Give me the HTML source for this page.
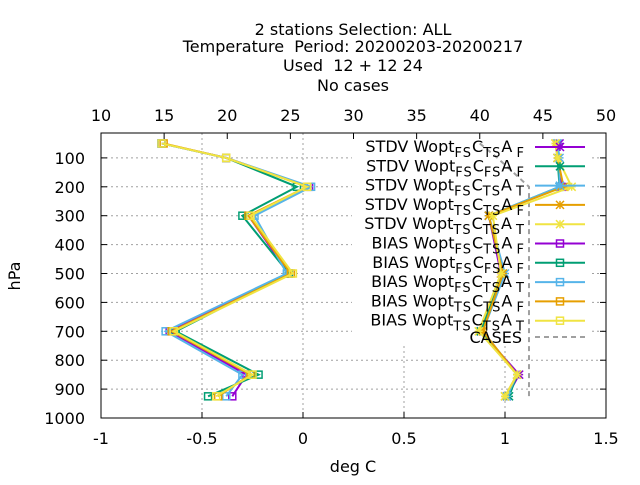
<!DOCTYPE html>
<html><head><meta charset="utf-8"><style>
body{margin:0;background:#fff}
svg{font-family:"DejaVu Sans","Liberation Sans",sans-serif}
text{white-space:pre}
</style></head><body>
<svg id="c" width="640" height="480" viewBox="0 0 640 480" xmlns="http://www.w3.org/2000/svg">
<g font-size="16" text-anchor="middle" fill="#000">
<text x="353" y="35" xml:space="preserve">2 stations Selection: ALL</text>
<text x="353" y="52" xml:space="preserve">Temperature  Period: 20200203-20200217</text>
<text x="353" y="71" xml:space="preserve">Used  12 + 12 24</text>
<text x="353" y="91">No cases</text>
</g>
<g id="grid"></g>
<g id="axes"></g>
<g id="series"></g>
<g id="legend"></g>
<text x="20" y="276" font-size="16" transform="rotate(-90 20 276)" text-anchor="middle">hPa</text>
<text x="353" y="472" font-size="16" text-anchor="middle">deg C</text>
</svg>
<script>
const levels=[50,100,200,300,500,700,850,925];
const stdvFsTsF=[1.27,1.26,1.28,0.92,0.98,0.88,1.07,1.01];
const stdvFsFsF=[1.26,1.26,1.27,0.92,0.99,0.88,1.06,1.02];
const stdvFsTsT=[1.26,1.27,1.27,0.92,1.00,0.89,1.06,1.01];
const stdvTsTsF=[1.25,1.26,1.29,0.92,0.99,0.89,1.06,1.00];
const stdvTsTsT=[1.25,1.26,1.33,0.94,0.98,0.87,1.06,1.00];
const biasFsTsF=[-0.70,-0.38,0.03,-0.27,-0.07,-0.66,-0.28,-0.35];
const biasFsFsF=[-0.70,-0.38,-0.03,-0.30,-0.07,-0.63,-0.22,-0.47];
const biasFsTsT=[-0.70,-0.38,0.04,-0.24,-0.08,-0.68,-0.30,-0.38];
const biasTsTsF=[-0.69,-0.38,0.02,-0.27,-0.06,-0.65,-0.26,-0.42];
const biasTsTsT=[-0.70,-0.38,0.02,-0.26,-0.05,-0.64,-0.25,-0.43];
const casesLevels=[50,100,200,300,500,700,850,925];
const casesVals=[40.0,41.4,43.9,43.9,43.9,43.9,43.9,43.9];
const xTicks=[-1,-0.5,0,0.5,1,1.5];
const xTickLabels=["-1","-0.5","0","0.5","1","1.5"];
const x2Ticks=[10,15,20,25,30,35,40,45,50];
const yTicks=[100,200,300,400,500,600,700,800,900,1000];

const L=101,R=606,T=133,B=418;
const X=v=>L+(v+1)/2.5*(R-L);
const X2=v=>L+(v-10)/40*(R-L);
const Y=p=>129+p*0.289;
const NS="http://www.w3.org/2000/svg";
function mk(tag,attrs,parent){const e=document.createElementNS(NS,tag);for(const k in attrs)e.setAttribute(k,attrs[k]);parent.appendChild(e);return e;}
const grid=document.getElementById('grid'),axes=document.getElementById('axes'),ser=document.getElementById('series'),leg=document.getElementById('legend');
const gs={stroke:"#a0a0a0","stroke-width":1,"stroke-dasharray":"2,3"};
const hx1=352,hx2=592,hy2=346;
yTicks.forEach(p=>{const y=Y(p);if(p>=1000)return;
 if(y<hy2){const a=mk('line',Object.assign({x1:L,x2:hx1,y1:y,y2:y},gs),grid);
  const b=mk('line',Object.assign({x1:hx2,x2:R,y1:y,y2:y},gs),grid);}
 else{const a=mk('line',Object.assign({x1:L,x2:R,y1:y,y2:y},gs),grid);}
});
xTicks.forEach(v=>{if(v<=-1||v>=1.5)return;const x=X(v);const y0=(x>hx1&&x<hx2)?hy2:T;
 const a=mk('line',Object.assign({x1:x,x2:x,y1:y0,y2:B},gs),grid);});
mk('rect',{x:L,y:T,width:R-L,height:B-T,fill:"none",stroke:"#000","stroke-width":1},axes);
xTicks.forEach((v,i)=>{const x=X(v);mk('line',{x1:x,x2:x,y1:B,y2:B-6,stroke:"#000"},axes);
 const t=mk('text',{x:x,y:444,"font-size":16,"text-anchor":"middle"},axes);t.textContent=xTickLabels[i];
 });
x2Ticks.forEach(v=>{const x=X2(v);mk('line',{x1:x,x2:x,y1:T,y2:T+6,stroke:"#000"},axes);
 const t=mk('text',{x:x,y:121,"font-size":16,"text-anchor":"middle"},axes);t.textContent=v;
 });
yTicks.forEach(p=>{const y=Y(p);mk('line',{x1:L,x2:L+6,y1:y,y2:y,stroke:"#000"},axes);mk('line',{x1:R,x2:R-6,y1:y,y2:y,stroke:"#000"},axes);
 const t=mk('text',{x:85,y:y+6,"font-size":16,"text-anchor":"end"},axes);t.textContent=p;
 });
const cp=casesLevels.map((p,i)=>X2(casesVals[i])+","+Y(p)).join(" ");
const cl=mk('polyline',{points:cp,fill:"none",stroke:"#a0a0a0","stroke-width":2,"stroke-dasharray":"5,4"},ser);

const series=[
 {d:stdvFsTsF,c:"#9400d3",m:"x",n:"stdv-fs-ts-f"},{d:stdvFsFsF,c:"#009e73",m:"x",n:"stdv-fs-fs-f"},
 {d:stdvFsTsT,c:"#56b4e9",m:"x",n:"stdv-fs-ts-t"},{d:stdvTsTsF,c:"#e69f00",m:"x",n:"stdv-ts-ts-f"},
 {d:stdvTsTsT,c:"#f0e442",m:"x",n:"stdv-ts-ts-t"},
 {d:biasFsTsF,c:"#9400d3",m:"s",n:"bias-fs-ts-f"},{d:biasFsFsF,c:"#009e73",m:"s",n:"bias-fs-fs-f"},
 {d:biasFsTsT,c:"#56b4e9",m:"s",n:"bias-fs-ts-t"},{d:biasTsTsF,c:"#e69f00",m:"s",n:"bias-ts-ts-f"},
 {d:biasTsTsT,c:"#f0e442",m:"s",n:"bias-ts-ts-t"}];
function marker(g,x,y,c,m){if(m==="s"){mk('rect',{x:x-3.5,y:y-3.5,width:7,height:7,fill:"none",stroke:c,"stroke-width":1.5},g);}
 else{mk('path',{d:`M${x-4} ${y-4}L${x+4} ${y+4}M${x-4} ${y+4}L${x+4} ${y-4}M${x-4} ${y}H${x+4}M${x} ${y-4}V${y+4}`,stroke:c,"stroke-width":1.5},g);}}
series.forEach(s=>{const g=mk('g',{},ser);
 const pts=levels.map((p,i)=>X(s.d[i])+","+Y(p)).join(" ");
 mk('polyline',{points:pts,fill:"none",stroke:s.c,"stroke-width":2},g);
 levels.forEach((p,i)=>marker(g,X(s.d[i]),Y(p),s.c,s.m));});
const labs=[["STDV","FS","TS","F"],["STDV","FS","FS","F"],["STDV","FS","TS","T"],["STDV","TS","TS","F"],["STDV","TS","TS","T"],
 ["BIAS","FS","TS","F"],["BIAS","FS","FS","F"],["BIAS","FS","TS","T"],["BIAS","TS","TS","F"],["BIAS","TS","TS","T"]];
labs.forEach((l,i)=>{const y=147+i*19.3;const s=series[i];
 const g=mk('g',{},leg);
 const t=mk('text',{x:524,y:y+5,"font-size":16,"text-anchor":"end"},g);
 t.innerHTML=`${l[0]} Wopt<tspan dy="5" font-size="13" letter-spacing="1">${l[1]}</tspan><tspan dy="-5">C</tspan><tspan dy="5" font-size="13" letter-spacing="1">${l[2]}</tspan><tspan dy="-5">A</tspan><tspan dy="5" font-size="13"> ${l[3]}</tspan>`;
 mk('line',{x1:535,x2:585,y1:y,y2:y,stroke:s.c,"stroke-width":2},g);marker(g,560,y,s.c,s.m);});
const gc=mk('g',{},leg);
const ct=mk('text',{x:522,y:343,"font-size":16,"text-anchor":"end"},gc);ct.textContent="CASES";
mk('line',{x1:535,x2:585,y1:337,y2:337,stroke:"#a0a0a0","stroke-width":2,"stroke-dasharray":"5,4"},gc);
</script>
</body></html>
